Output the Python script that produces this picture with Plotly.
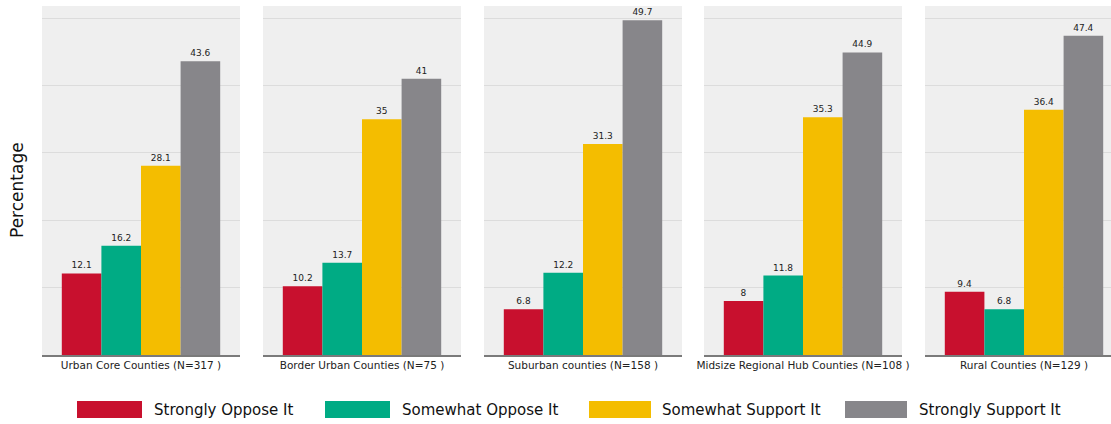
import plotly.graph_objects as go

W, H = 1111, 424

regions = [
    "Urban Core Counties (N=317 )",
    "Border Urban Counties (N=75 )",
    "Suburban counties (N=158 )",
    "Midsize Regional Hub Counties (N=108 )",
    "Rural Counties (N=129 )",
]
series_names = ["Strongly Oppose It", "Somewhat Oppose It", "Somewhat Support It", "Strongly Support It"]
strongly_oppose = [12.1, 10.2, 6.8, 8, 9.4]
somewhat_oppose = [16.2, 13.7, 12.2, 11.8, 6.8]
somewhat_support = [28.1, 35, 31.3, 35.3, 36.4]
strongly_support = [43.6, 41, 49.7, 44.9, 47.4]
series_values = [strongly_oppose, somewhat_oppose, somewhat_support, strongly_support]
colors = ["#c8102e", "#00ab84", "#f4bd00", "#87868a"]

# panel pixel layout
panel_left = [42, 263, 484, 704, 925]
panel_w = 198
plot_top, plot_bottom = 6, 355
y_max = 51.8

fig = go.Figure()

def fmt(v):
    return ("%g" % v)

for p, region in enumerate(regions):
    idx = "" if p == 0 else str(p + 1)
    for s, name in enumerate(series_names):
        v = series_values[s][p]
        fig.add_trace(go.Bar(
            x=[region], y=[v], name=name,
            marker=dict(color=colors[s], line=dict(width=0)),
            text=[fmt(v)], textposition="outside", constraintext="none",
            textfont=dict(family="DejaVu Sans", size=9, color="#222222"),
            cliponaxis=False, showlegend=False,
            xaxis="x" + idx, yaxis="y" + idx,
            hoverinfo="skip",
        ))
    left = panel_left[p]
    right = min(left + panel_w, W)
    vis = (right - left) / panel_w
    fig.update_layout(**{
        "xaxis" + idx: dict(
            domain=[left / W, right / W], anchor="y" + idx,
            type="category", range=[-0.5, -0.5 + vis],
            showline=True, linecolor="#7a7a7a", linewidth=1.5,
            showgrid=False, ticks="", zeroline=False,
            tickfont=dict(family="DejaVu Sans", size=10.5, color="#222222"),
            fixedrange=True, automargin=False,
        ),
        "yaxis" + idx: dict(
            domain=[(H - plot_bottom) / H, (H - plot_top) / H], anchor="x" + idx,
            range=[0, y_max], showticklabels=False, ticks="",
            tick0=0, dtick=10, showgrid=True, gridcolor="#dcdcdc", gridwidth=1,
            zeroline=False, showline=False, fixedrange=True, automargin=False,
        ),
    })

# background panels
for p in range(len(regions)):
    idx = "" if p == 0 else str(p + 1)
    fig.add_shape(type="rect", xref=("x" + idx) + " domain", yref=("y" + idx) + " domain",
                  x0=0, x1=1, y0=0, y1=1, fillcolor="#efefef", line=dict(width=0), layer="below")

# y-axis title
fig.add_annotation(text="Percentage", xref="paper", yref="paper", x=17 / W, y=(H - 190) / H,
                   xanchor="center", yanchor="middle",
                   textangle=-90, showarrow=False,
                   font=dict(family="DejaVu Sans", size=17, color="#111111"))

# custom legend
leg_rect_x = [(77, 142), (325, 390), (589, 651), (845, 907)]
leg_text_x = [152, 400, 660, 917]
for s, name in enumerate(series_names):
    x0, x1 = leg_rect_x[s]
    fig.add_shape(type="rect", xref="paper", yref="paper",
                  x0=x0 / W, x1=x1 / W, y0=(H - 418) / H, y1=(H - 401) / H,
                  fillcolor=colors[s], line=dict(width=0))
    fig.add_annotation(text=name, xref="paper", yref="paper", x=leg_text_x[s] / W, y=(H - 410) / H,
                       xanchor="left", yanchor="middle", showarrow=False,
                       font=dict(family="DejaVu Sans", size=15, color="#111111"))

fig.update_layout(
    width=W, height=H, barmode="group", bargap=0.2, bargroupgap=0,
    margin=dict(l=0, r=0, t=0, b=0, pad=0, autoexpand=False),
    paper_bgcolor="white", plot_bgcolor="rgba(0,0,0,0)",
    showlegend=False,
)

fig.write_html("out.html", config={"displayModeBar": False},
               post_script="document.body.style.margin='0px';document.body.style.overflow='hidden';")
